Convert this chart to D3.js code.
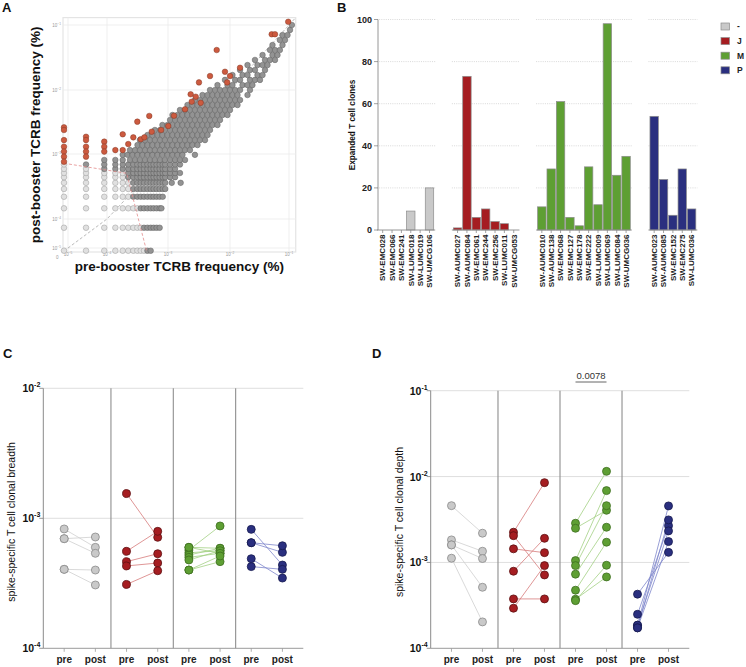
<!DOCTYPE html>
<html><head><meta charset="utf-8">
<script src="https://cdn.jsdelivr.net/npm/d3@7"></script>
<style>body{margin:0;background:#fff}</style>
</head><body>
<script>
// ---------------- Panel A data (frequencies in %) ----------------
const aTickValues = [1e-5, 1e-4, 1e-3, 1e-2, 1e-1];
const aZero = 4e-6, aMax = 1.3e-1;
// low-frequency clones (light), row by row: each row shares one post-booster value
const lowPostRows = [5.4e-6, 5.0e-5, 1.46e-4, 2.2e-4, 2.9e-4, 3.6e-4, 4.4e-4, 5.1e-4, 5.9e-4, 6.9e-4];
const lowPreRows = [
  [4.8e-6,2.9e-5,8.5e-5,1.37e-4,1.81e-4,2.23e-4,2.7e-4,3.14e-4,3.57e-4,4.04e-4],
  [4.8e-6,2.9e-5,8.5e-5,1.37e-4,1.81e-4,2.23e-4,2.7e-4,3.14e-4,3.57e-4],
  [4.8e-6,2.9e-5,8.5e-5,1.37e-4,1.81e-4,2.23e-4,2.7e-4,3.14e-4],
  [4.8e-6,2.9e-5,8.5e-5,1.37e-4,1.81e-4,2.23e-4],
  [4.8e-6,2.9e-5,8.5e-5,1.37e-4,1.81e-4,2.23e-4],
  [4.8e-6,2.9e-5,8.5e-5,1.37e-4,1.81e-4,2.23e-4],
  [4.8e-6,2.9e-5,8.5e-5,1.37e-4,1.81e-4],
  [4.8e-6,2.9e-5,8.5e-5,1.37e-4,1.81e-4],
  [4.8e-6,2.9e-5],
  [4.8e-6]
];
// non-expanded clones (dark grey), row by row
const stablePostRows = [5.4e-6,5.0e-5,1.46e-4,2.2e-4,2.9e-4,3.6e-4,4.4e-4,5.1e-4,5.9e-4,6.9e-4,
  8.1e-4,9.7e-4,1.15e-3,1.38e-3,1.65e-3,1.98e-3,2.37e-3,2.84e-3,3.4e-3,4.07e-3,4.87e-3,5.83e-3,6.98e-3,8.35e-3,
  1.0e-2,1.19e-2,1.43e-2,1.7e-2,2.03e-2,2.42e-2,2.9e-2,3.45e-2,4.12e-2,4.92e-2,5.87e-2,7.0e-2,8.4e-2,1.0e-1];
const stablePreRows = [
  [4.6e-4,5.2e-4],
  [4.04e-4,4.6e-4,5.2e-4,5.8e-4,6.5e-4,7.3e-4],
  [3.57e-4,4.04e-4,4.6e-4,5.2e-4,5.8e-4,6.5e-4,7.3e-4,7.8e-4],
  [2.7e-4,3.14e-4,3.57e-4,4.04e-4,4.6e-4,5.2e-4,5.8e-4,6.5e-4,7.3e-4,8.2e-4],
  [2.7e-4,3.14e-4,3.57e-4,4.04e-4,4.6e-4,5.2e-4,5.8e-4,6.5e-4,7.3e-4,8.2e-4,9.0e-4],
  [2.7e-4,3.14e-4,3.57e-4,4.04e-4,4.6e-4,5.2e-4,5.8e-4,6.5e-4,7.3e-4,8.2e-4,9.0e-4,1.15e-3,1.6e-3],
  [2.23e-4,2.7e-4,3.14e-4,3.57e-4,4.04e-4,4.6e-4,5.2e-4,5.8e-4,6.5e-4,7.3e-4,8.2e-4,9.0e-4,1.08e-3,1.3e-3],
  [2.23e-4,2.7e-4,3.14e-4,3.57e-4,4.04e-4,4.6e-4,5.2e-4,5.8e-4,6.5e-4,7.3e-4,8.2e-4,9.0e-4,1.08e-3,1.3e-3,1.56e-3],
  [8.5e-5,1.37e-4,1.81e-4,2.23e-4,2.7e-4,3.14e-4,3.57e-4,4.04e-4,4.6e-4,5.2e-4,5.8e-4,6.5e-4,7.3e-4,8.2e-4,9.0e-4,1.08e-3,1.3e-3],
  [2.9e-5,8.5e-5,1.37e-4,1.81e-4,2.23e-4,2.7e-4,3.14e-4,3.57e-4,4.04e-4,4.6e-4,5.2e-4,5.8e-4,6.5e-4,7.3e-4,8.2e-4,9.0e-4,1.08e-3,1.3e-3,1.56e-3],
  [8.5e-5,1.37e-4,1.81e-4,2.38e-4,2.88e-4,3.47e-4,4.2e-4,5.07e-4,6.1e-4,7.4e-4,8.9e-4,1.08e-3,1.3e-3,1.56e-3,1.88e-3],
  [1.81e-4,2.17e-4,2.62e-4,3.16e-4,3.82e-4,4.61e-4,5.57e-4,6.73e-4,8.1e-4,9.8e-4,1.18e-3,1.42e-3,1.71e-3,2.72e-3],
  [2.38e-4,2.88e-4,3.47e-4,4.2e-4,5.07e-4,6.1e-4,7.4e-4,8.9e-4,1.08e-3,1.3e-3,1.56e-3,1.88e-3,2.26e-3],
  [3.16e-4,3.82e-4,4.61e-4,5.57e-4,6.73e-4,8.1e-4,9.8e-4,1.18e-3,1.42e-3,1.71e-3,2.06e-3,2.48e-3,2.99e-3],
  [3.47e-4,4.2e-4,5.07e-4,6.1e-4,7.4e-4,8.9e-4,1.08e-3,1.3e-3,1.56e-3,1.88e-3,2.26e-3,2.72e-3,3.28e-3,3.95e-3],
  [4.61e-4,5.57e-4,6.73e-4,8.1e-4,9.8e-4,1.18e-3,1.42e-3,1.71e-3,2.06e-3,2.48e-3,2.99e-3,3.6e-3,4.34e-3],
  [6.1e-4,7.4e-4,8.9e-4,1.08e-3,1.3e-3,1.56e-3,1.88e-3,2.26e-3,2.72e-3,3.28e-3,3.95e-3,4.76e-3],
  [8.1e-4,9.8e-4,1.18e-3,1.42e-3,1.71e-3,2.06e-3,2.48e-3,2.99e-3,3.6e-3,4.34e-3,5.22e-3,6.28e-3],
  [1.08e-3,1.3e-3,1.56e-3,1.88e-3,2.26e-3,2.72e-3,3.28e-3,3.95e-3,4.76e-3,5.73e-3,6.9e-3],
  [1.18e-3,1.42e-3,1.71e-3,2.06e-3,2.48e-3,2.99e-3,3.6e-3,4.34e-3,5.22e-3,6.28e-3,7.57e-3,9.1e-3],
  [1.56e-3,1.88e-3,2.26e-3,2.72e-3,3.28e-3,3.95e-3,4.76e-3,5.73e-3,6.9e-3,8.3e-3,1.0e-2],
  [2.06e-3,2.48e-3,2.99e-3,3.6e-3,4.34e-3,5.22e-3,6.28e-3,7.57e-3,9.1e-3,1.1e-2,1.34e-2],
  [2.72e-3,3.28e-3,3.95e-3,4.76e-3,5.73e-3,6.9e-3,8.3e-3,1.0e-2,1.22e-2,1.48e-2],
  [3.6e-3,4.34e-3,5.22e-3,6.28e-3,7.57e-3,9.1e-3,1.1e-2,1.34e-2,1.98e-2],
  [4.76e-3,5.73e-3,6.9e-3,8.3e-3,1.0e-2,1.22e-2,1.48e-2,2.18e-2],
  [6.28e-3,9.1e-3,1.1e-2,1.63e-2,1.98e-2,2.4e-2],
  [8.3e-3,1.22e-2,1.48e-2,2.18e-2,2.65e-2,3.22e-2],
  [1.1e-2,1.63e-2,1.98e-2,2.92e-2,3.56e-2],
  [1.48e-2,2.18e-2,2.65e-2,3.92e-2],
  [1.98e-2,2.92e-2,3.56e-2,4.32e-2],
  [2.65e-2,3.92e-2,4.76e-2,5.79e-2],
  [3.56e-2,5.25e-2,6.38e-2],
  [4.76e-2,5.79e-2,7.0e-2],
  [5.25e-2,7.76e-2],
  [7.0e-2,8.55e-2],
  [7.76e-2,9.44e-2],
  [1.04e-1],
  [1.12e-1]
];
// expanded clones (red): [pre, post]
const expandedClones = [
  [4.8e-6,2.61e-3],[4.8e-6,2.37e-3],[4.8e-6,1.65e-3],[4.8e-6,1.3e-3],[4.8e-6,1.09e-3],[4.8e-6,9.1e-4],[4.8e-6,7.6e-4],
  [2.9e-5,1.86e-3],[2.9e-5,1.65e-3],[2.9e-5,1.3e-3],[2.9e-5,1.09e-3],[2.9e-5,9.1e-4],
  [8.5e-5,1.56e-3],[8.5e-5,1.3e-3],[8.5e-5,1.09e-3],
  [1.37e-4,1.15e-3],[1.81e-4,1.15e-3],[1.81e-4,2.03e-3],
  [2.23e-4,1.43e-3],[2.7e-4,1.82e-3],[3.14e-4,3.2e-3],[3.57e-4,1.7e-3],[4.1e-4,1.82e-3],
  [4.93e-4,3.93e-3],[5.4e-4,2.23e-3],[7.7e-4,2.37e-3],[1.01e-3,2.74e-3],[1.25e-3,3.97e-3],[1.88e-3,4.99e-3],
  [2.32e-3,8.57e-3],[2.41e-3,6.57e-3],[2.8e-3,7.86e-3],[3.16e-3,1.31e-2],[3.37e-3,6.3e-3],[4.76e-3,1.64e-2],
  [6.1e-3,4.12e-2],[8.3e-3,1.91e-2],[1.0e-2,1.64e-2],[9.0e-3,1.31e-2],[1.48e-2,2.2e-2],
  [9.7e-2,1.12e-1],[5.09e-2,7.2e-2],[5.79e-2,7.2e-2]
];
// threshold used to call expansion (dashed red)
const thresholdPre = [4.8e-6, 2.1e-4, 4.5e-4];
const thresholdPost = [7.2e-4, 5.05e-4, 4e-6];

// ---------------- Panel B data ----------------
const groupNames = ["-", "J", "M", "P"];
const patientsNone = ["SW-EMC028","SW-EMC066","SW-EMC241","SW-LUMC018","SW-LUMC019","SW-UMCG106"];
const clonesNone = [0, 0, 0, 9, 0, 20];
const patientsJ = ["SW-AUMC027","SW-AUMC084","SW-EMC061","SW-EMC244","SW-EMC256","SW-LUMC011","SW-UMCG053"];
const clonesJ = [1, 73, 6, 10, 4, 3, 0];
const patientsM = ["SW-AUMC010","SW-AUMC138","SW-EMC068","SW-EMC127","SW-EMC178","SW-EMC222","SW-LUMC009","SW-LUMC069","SW-LUMC084","SW-UMCG036"];
const clonesM = [11, 29, 61, 6, 2, 30, 12, 98, 26, 35];
const patientsP = ["SW-AUMC023","SW-AUMC085","SW-EMC152","SW-EMC275","SW-LUMC036"];
const clonesP = [54, 24, 7, 29, 10];
const bTicks = [0, 20, 40, 60, 80, 100];

// ---------------- Panel C / D data ----------------
const stages = ["pre", "post"];
const breadthPreNone = [8.28e-4, 6.97e-4, 6.97e-4, 4.05e-4, 4.05e-4];
const breadthPostNone = [5.98e-4, 7.18e-4, 5.38e-4, 4.0e-4, 3.07e-4];
const breadthPreJ = [1.55e-3, 5.57e-4, 4.64e-4, 4.30e-4, 3.1e-4];
const breadthPostJ = [7.14e-4, 7.94e-4, 5.34e-4, 4.53e-4, 3.95e-4];
const breadthPreM = [5.7e-4, 5.98e-4, 5.43e-4, 5.22e-4, 5.01e-4, 4.78e-4, 5.98e-4, 4.0e-4, 4.0e-4];
const breadthPostM = [8.73e-4, 5.88e-4, 5.63e-4, 5.88e-4, 5.38e-4, 5.63e-4, 5.38e-4, 4.64e-4, 5.13e-4];
const breadthPreP = [8.22e-4, 6.49e-4, 6.49e-4, 4.89e-4, 4.25e-4];
const breadthPostP = [4.37e-4, 5.47e-4, 6.15e-4, 3.47e-4, 4.05e-4];

const depthPreNone = [4.58e-3, 1.83e-3, 1.6e-3, 1.6e-3, 1.12e-3];
const depthPostNone = [2.19e-3, 1.35e-3, 1.11e-3, 5.14e-4, 2.03e-4];
const depthPreJ = [2.25e-3, 2.05e-3, 1.44e-3, 7.9e-4, 3.76e-4, 2.93e-4];
const depthPostJ = [8.49e-3, 7.15e-4, 1.3e-3, 1.91e-3, 3.76e-4, 9.18e-4];
const depthPreM = [2.86e-3, 2.5e-3, 1.05e-3, 9.18e-4, 7.3e-4, 4.75e-4, 3.73e-4, 3.59e-4];
const depthPostM = [1.15e-2, 4.05e-3, 6.86e-3, 4.58e-3, 2.57e-3, 1.72e-3, 6.78e-4, 9.27e-4];
const depthPreP = [4.27e-4, 2.49e-4, 1.86e-4, 1.86e-4, 1.73e-4, 1.73e-4];
const depthPostP = [1.31e-3, 2.68e-3, 4.55e-3, 2.33e-3, 3.13e-3, 1.75e-3];
const depthPValue = "0.0078";

// ---------------- styling ----------------
const FONT = "'Liberation Sans', Arial, Helvetica, sans-serif";
const groupFill = ["#c9c9c9", "#a51d21", "#5e9f33", "#2a2f7f"];
const groupStroke = ["#8a8a8a", "#5c1012", "#3d6d20", "#161a4f"];
const groupLine = ["#cfcfcf", "#d77b7b", "#a3d184", "#7f86cc"];

const svg = d3.select("body").append("svg").attr("width", 746).attr("height", 667)
  .style("font-family", FONT).style("background", "#fff");

// panel letters
svg.selectAll("text.letter").data([["A",2,12],["B",337,12],["C",3,358],["D",372,358]]).join("text")
  .attr("x", d => d[1]).attr("y", d => d[2]).text(d => d[0])
  .attr("font-size", 13).attr("font-weight", "bold").attr("fill", "#111");

function sciText(sel, exp, supSize, supDy) {
  sel.append("tspan").text("10");
  sel.append("tspan").text(exp).attr("font-size", supSize).attr("dy", supDy);
}

// ================= Panel A =================
(function () {
  const g = svg.append("g");
  const dom = [aZero].concat(aTickValues);
  const x = d3.scaleLog().domain(dom).range([63, 68, 107, 168, 230, 289]);
  const y = d3.scaleLog().domain(dom).range([252, 248, 219, 154, 90, 25]);
  const x0 = x(aZero), x1 = x(aMax), y0 = y(aZero), y1 = y(aMax);
  g.append("rect").attr("x", x0).attr("y", y1).attr("width", x1 - x0).attr("height", y0 - y1)
    .attr("fill", "none").attr("stroke", "#e4e4e4").attr("stroke-width", 1.2);
  aTickValues.forEach(t => {
    g.append("line").attr("x1", x(t)).attr("x2", x(t)).attr("y1", y0).attr("y2", y1)
      .attr("stroke", "#ebebeb").attr("stroke-width", 0.8);
    g.append("line").attr("y1", y(t)).attr("y2", y(t)).attr("x1", x0).attr("x2", x1)
      .attr("stroke", "#ebebeb").attr("stroke-width", 0.8);
    const e = Math.round(Math.log10(t));
    const tx = g.append("text").attr("x", x(t)).attr("y", 255.5).attr("text-anchor", "middle")
      .attr("font-size", 4.5).attr("fill", "#9a9a9a");
    sciText(tx, String(e).replace("-", "−"), 3.2, -1.5);
    const ty = g.append("text").attr("x", 61).attr("y", y(t) + 1.5).attr("text-anchor", "end")
      .attr("font-size", 4.5).attr("fill", "#9a9a9a");
    sciText(ty, String(e).replace("-", "−"), 3.2, -1.5);
  });
  g.append("text").attr("x", 56).attr("y", 258.5).text("0").attr("font-size", 4.5).attr("fill", "#9a9a9a");

  // identity line
  const diag = [4.8e-6].concat(aTickValues, [aMax]);
  g.append("path").datum(diag).attr("d", d3.line().x(d => x(d)).y(d => y(d)))
    .attr("fill", "none").attr("stroke", "#a8a8a8").attr("stroke-width", 0.8).attr("stroke-dasharray", "3,2");

  const low = [], stable = [];
  lowPostRows.forEach((p, i) => lowPreRows[i].forEach(q => low.push([q, p])));
  stablePostRows.forEach((p, i) => stablePreRows[i].forEach(q => stable.push([q, p])));

  g.append("g").selectAll("circle").data(low).join("circle")
    .attr("cx", d => x(d[0])).attr("cy", d => y(d[1])).attr("r", 2.8)
    .attr("fill", "#e0e0e0").attr("stroke", "#8f8f8f").attr("stroke-width", 0.45);
  g.append("g").selectAll("circle").data(stable).join("circle")
    .attr("cx", d => x(d[0])).attr("cy", d => y(d[1])).attr("r", 2.8)
    .attr("fill", "#939393").attr("stroke", "#555").attr("stroke-width", 0.45);

  // threshold
  g.append("path").datum(d3.zip(thresholdPre, thresholdPost))
    .attr("d", d3.line().x(d => x(d[0])).y(d => y(d[1])))
    .attr("fill", "none").attr("stroke", "#e38c8c").attr("stroke-width", 0.8).attr("stroke-dasharray", "3,2");

  g.append("g").selectAll("circle").data(expandedClones).join("circle")
    .attr("cx", d => x(d[0])).attr("cy", d => y(d[1])).attr("r", 2.8)
    .attr("fill", "#cc5a3f").attr("stroke", "#7a3322").attr("stroke-width", 0.45);

  g.append("text").attr("x", (x0 + x1) / 2).attr("y", 270.5).attr("text-anchor", "middle")
    .attr("font-size", 13.5).attr("font-weight", "bold").attr("fill", "#111")
    .text("pre-booster TCRB frequency (%)");
  g.append("text").attr("transform", `translate(40,${(y0 + y1) / 2}) rotate(-90)`).attr("text-anchor", "middle")
    .attr("font-size", 13.5).attr("font-weight", "bold").attr("fill", "#111")
    .text("post-booster TCRB frequency (%)");
})();

// ================= Panel B =================
(function () {
  const g = svg.append("g");
  const groups = [
    { name: groupNames[0], pats: patientsNone, vals: clonesNone },
    { name: groupNames[1], pats: patientsJ, vals: clonesJ },
    { name: groupNames[2], pats: patientsM, vals: clonesM },
    { name: groupNames[3], pats: patientsP, vals: clonesP }
  ];
  const keys = [];
  groups.forEach((gr, i) => {
    gr.pats.forEach(p => keys.push(p));
    if (i < groups.length - 1) { keys.push("gap" + i + "a"); keys.push("gap" + i + "b"); }
  });
  const x = d3.scaleBand().domain(keys).range([378, 696.3]).paddingInner(0.1).paddingOuter(0.05);
  const y = d3.scaleLinear().domain([0, 100]).range([230, 19.5]);
  const bw = x.bandwidth();

  groups.forEach((gr, gi) => {
    const gx0 = x(gr.pats[0]) - 1.5, gx1 = x(gr.pats[gr.pats.length - 1]) + bw + 1.5;
    bTicks.slice(1).forEach(t => {
      g.append("line").attr("x1", gx0).attr("x2", gx1).attr("y1", y(t)).attr("y2", y(t))
        .attr("stroke", "#cfcfcf").attr("stroke-width", 0.8).attr("stroke-dasharray", "1,1.2");
    });
    g.append("g").selectAll("rect").data(gr.pats).join("rect")
      .attr("x", d => x(d)).attr("width", bw)
      .attr("y", (d, i) => y(gr.vals[i])).attr("height", (d, i) => y(0) - y(gr.vals[i]))
      .attr("fill", groupFill[gi]).attr("stroke", "#8c8c8c").attr("stroke-width", 0.7);
    g.append("line").attr("x1", gx0).attr("x2", gx1).attr("y1", y(0)).attr("y2", y(0))
      .attr("stroke", "#8a8a8a").attr("stroke-width", 0.9);
    gr.pats.forEach(p => {
      const cx = x(p) + bw / 2;
      g.append("line").attr("x1", cx).attr("x2", cx).attr("y1", y(0)).attr("y2", y(0) + 3)
        .attr("stroke", "#8a8a8a").attr("stroke-width", 0.8);
      g.append("text").attr("transform", `translate(${cx},${y(0) + 4.5}) rotate(-90)`)
        .attr("text-anchor", "end").attr("dy", "0.35em").attr("font-size", 8).attr("font-weight", "bold")
        .attr("fill", "#222").text(p);
    });
  });
  // y axis
  g.append("line").attr("x1", 378).attr("x2", 378).attr("y1", y(0)).attr("y2", y(100))
    .attr("stroke", "#8a8a8a").attr("stroke-width", 0.9);
  bTicks.forEach(t => {
    g.append("line").attr("x1", 374).attr("x2", 378).attr("y1", y(t)).attr("y2", y(t))
      .attr("stroke", "#8a8a8a").attr("stroke-width", 0.8);
    g.append("text").attr("x", 372).attr("y", y(t)).attr("dy", "0.35em").attr("text-anchor", "end")
      .attr("font-size", 9).attr("font-weight", "bold").attr("fill", "#222").text(t);
  });
  g.append("text").attr("transform", `translate(355,125) rotate(-90)`).attr("text-anchor", "middle")
    .attr("font-size", 8.2).attr("font-weight", "bold").attr("fill", "#111").text("Expanded T cell clones");
  // legend
  groupNames.forEach((n, i) => {
    const ly = 26.5 + i * 14.6;
    g.append("rect").attr("x", 721).attr("y", ly - 3.5).attr("width", 8.5).attr("height", 7)
      .attr("fill", groupFill[i]).attr("stroke", "#8c8c8c").attr("stroke-width", 0.7);
    g.append("text").attr("x", 737).attr("y", ly).attr("dy", "0.35em").attr("font-size", 8.5)
      .attr("font-weight", "bold").attr("fill", "#222").text(n);
  });
})();

// ================= Panels C & D =================
function pairedPanel(cfg) {
  const g = svg.append("g");
  const keys = [];
  groupNames.forEach(c => stages.forEach(s => keys.push(c + "|" + s)));
  const x = d3.scalePoint().domain(keys).range([cfg.x0, cfg.x1]).padding(0.67);
  const y = d3.scaleLog().domain(cfg.domain).range([cfg.yBot, cfg.yTop]);
  const yb = cfg.yBot, yt = cfg.yTop;
  cfg.ticks.slice(1).forEach(t => {
    g.append("line").attr("x1", cfg.x0).attr("x2", cfg.x1).attr("y1", y(t)).attr("y2", y(t))
      .attr("stroke", "#d6d6d6").attr("stroke-width", 0.8);
  });
  for (let i = 0; i < groupNames.length - 1; i++) {
    const sx = (x(groupNames[i] + "|post") + x(groupNames[i + 1] + "|pre")) / 2;
    g.append("line").attr("x1", sx).attr("x2", sx).attr("y1", yt).attr("y2", yb)
      .attr("stroke", "#8e8e8e").attr("stroke-width", 1.1);
  }
  g.append("line").attr("x1", cfg.x0).attr("x2", cfg.x1).attr("y1", yb).attr("y2", yb)
    .attr("stroke", "#9a9a9a").attr("stroke-width", 1);
  g.append("line").attr("x1", cfg.x0).attr("x2", cfg.x0).attr("y1", yt).attr("y2", yb)
    .attr("stroke", "#8a8a8a").attr("stroke-width", 1);
  keys.forEach(k => {
    g.append("line").attr("x1", x(k)).attr("x2", x(k)).attr("y1", yb).attr("y2", yb + 3.5)
      .attr("stroke", "#9a9a9a").attr("stroke-width", 0.8);
    g.append("text").attr("x", x(k)).attr("y", 663).attr("text-anchor", "middle")
      .attr("font-size", 10).attr("font-weight", "bold").attr("fill", "#222").text(k.split("|")[1]);
  });
  cfg.ticks.forEach(t => {
    g.append("line").attr("x1", cfg.x0 - 4).attr("x2", cfg.x0).attr("y1", y(t)).attr("y2", y(t))
      .attr("stroke", "#8a8a8a").attr("stroke-width", 0.9);
    const e = Math.round(Math.log10(t));
    const tx = g.append("text").attr("x", cfg.x0 - 3).attr("y", y(t) + 4).attr("text-anchor", "end")
      .attr("font-size", 10.5).attr("font-weight", "bold").attr("fill", "#111");
    sciText(tx, String(e), 7, -5);
  });
  g.append("text").attr("transform", `translate(${cfg.titleX},522) rotate(-90)`).attr("text-anchor", "middle")
    .attr("font-size", 10.5).attr("fill", "#111").text(cfg.title);
  cfg.series.forEach((s, gi) => {
    const c = groupNames[gi];
    const pairs = d3.zip(s.pre, s.post);
    g.append("g").selectAll("line").data(pairs).join("line")
      .attr("x1", x(c + "|pre")).attr("x2", x(c + "|post"))
      .attr("y1", d => y(d[0])).attr("y2", d => y(d[1]))
      .attr("stroke", groupLine[gi]).attr("stroke-width", 0.8);
    const pts = [];
    s.pre.forEach(v => pts.push([c + "|pre", v]));
    s.post.forEach(v => pts.push([c + "|post", v]));
    g.append("g").selectAll("circle").data(pts).join("circle")
      .attr("cx", d => x(d[0])).attr("cy", d => y(d[1])).attr("r", 4)
      .attr("fill", groupFill[gi]).attr("stroke", groupStroke[gi]).attr("stroke-width", 0.8);
  });
  if (cfg.annot) {
    const a = cfg.annot;
    const xa = x(a.group + "|pre"), xb = x(a.group + "|post");
    g.append("line").attr("x1", xa).attr("x2", xb).attr("y1", a.y).attr("y2", a.y)
      .attr("stroke", "#555").attr("stroke-width", 0.9);
    g.append("text").attr("x", (xa + xb) / 2).attr("y", a.y - 3).attr("text-anchor", "middle")
      .attr("font-size", 9.5).attr("fill", "#333").text(a.text);
  }
}

pairedPanel({
  x0: 43.3, x1: 303.3, yTop: 388.3, yBot: 648.3, domain: [1e-4, 1e-2], ticks: [1e-4, 1e-3, 1e-2],
  title: "spike-specific T cell clonal breadth", titleX: 15,
  series: [
    { pre: breadthPreNone, post: breadthPostNone },
    { pre: breadthPreJ, post: breadthPostJ },
    { pre: breadthPreM, post: breadthPostM },
    { pre: breadthPreP, post: breadthPostP }
  ]
});
pairedPanel({
  x0: 430.7, x1: 689.3, yTop: 390.7, yBot: 648.3, domain: [1e-4, 1e-1], ticks: [1e-4, 1e-3, 1e-2, 1e-1],
  title: "spike-specific T cell clonal depth", titleX: 403,
  series: [
    { pre: depthPreNone, post: depthPostNone },
    { pre: depthPreJ, post: depthPostJ },
    { pre: depthPreM, post: depthPostM },
    { pre: depthPreP, post: depthPostP }
  ],
  annot: { group: "M", y: 382, text: depthPValue }
});
</script>
</body></html>
